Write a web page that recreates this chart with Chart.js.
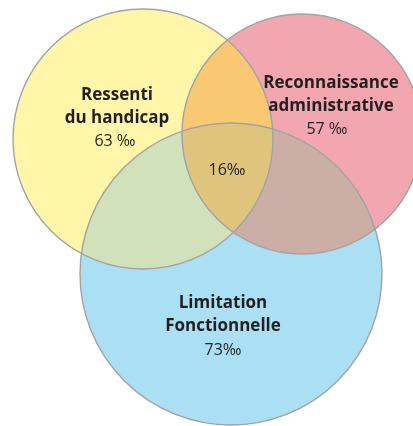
<!DOCTYPE html>
<html>
<head>
<meta charset="utf-8">
<script src="https://cdn.jsdelivr.net/npm/chart.js@4/dist/chart.umd.min.js"></script>
<style>
  html, body { margin: 0; padding: 0; background: #ffffff; overflow: hidden; }
  #wrap { width: 413px; height: 426px; position: relative; }
</style>
</head>
<body>
<div id="wrap"><canvas id="venn"></canvas></div>
<script>
// Three groups of the Venn diagram (values in per mille)
const groupNames = [
  ['Ressenti', 'du handicap'],
  ['Reconnaissance', 'administrative'],
  ['Limitation', 'Fonctionnelle']
];
const groupValues = [63, 57, 73];
const valueSeparators = [' ', ' ', ''];
const overlapAllValue = 16;

// Circle geometry in chart units (x right, y down; 1 unit = 1 px)
const circleX = [143, 302, 231];
const circleY = [139, 134, 274];
const circleR = [130, 120, 151];

// Label anchors in chart units
const nameX = [117, 331, 223];
const nameY = [95, 83, 303];
const valueX = [115, 327, 223];
const valueY = [141, 129, 350];
const centerLabelX = 227;
const centerLabelY = 170;

const fills = ['#fff6aa', '#f2a6b0', '#aadff4'];
const pairFills = { '0-1': '#f8c972', '0-2': '#d1e2bb', '1-2': '#cbafa6' };
const tripleFill = '#dfc47e';
const edgeColor = '#a3a3a3';
const textColor = '#231f20';

const points = circleX.map((x, i) => ({ x: x, y: circleY[i], r: circleR[i] }));

function circlePath(ctx, el) {
  ctx.beginPath();
  ctx.arc(el.x, el.y, el.options.radius, 0, Math.PI * 2);
  ctx.closePath();
}

const vennPlugin = {
  id: 'vennOverlaps',
  afterDatasetsDraw(chart) {
    const ctx = chart.ctx;
    const els = chart.getDatasetMeta(0).data;
    // pairwise overlaps
    for (let a = 0; a < els.length; a++) {
      for (let b = a + 1; b < els.length; b++) {
        ctx.save();
        circlePath(ctx, els[a]); ctx.clip();
        circlePath(ctx, els[b]);
        ctx.fillStyle = pairFills[a + '-' + b];
        ctx.fill();
        ctx.restore();
      }
    }
    // common area of the three circles
    ctx.save();
    circlePath(ctx, els[0]); ctx.clip();
    circlePath(ctx, els[1]); ctx.clip();
    circlePath(ctx, els[2]);
    ctx.fillStyle = tripleFill;
    ctx.fill();
    ctx.restore();
    // outlines on top
    ctx.save();
    ctx.strokeStyle = edgeColor;
    ctx.lineWidth = 1.4;
    els.forEach(el => { circlePath(ctx, el); ctx.stroke(); });
    ctx.restore();

    // texts
    const xs = chart.scales.x, ys = chart.scales.y;
    const lineGap = 23;
    ctx.save();
    ctx.fillStyle = textColor;
    ctx.textAlign = 'center';
    ctx.textBaseline = 'middle';
    groupNames.forEach((lines, i) => {
      const px = xs.getPixelForValue(nameX[i]);
      const py = ys.getPixelForValue(nameY[i]);
      ctx.font = '700 17px "Open Sans", sans-serif';
      lines.forEach((t, k) => ctx.fillText(t, px, py + k * lineGap));
      ctx.font = '400 16px "Open Sans", sans-serif';
      ctx.fillText(groupValues[i] + valueSeparators[i] + '‰',
        xs.getPixelForValue(valueX[i]), ys.getPixelForValue(valueY[i]));
    });
    ctx.font = '400 16px "Open Sans", sans-serif';
    ctx.fillText(overlapAllValue + '‰', xs.getPixelForValue(centerLabelX), ys.getPixelForValue(centerLabelY));
    ctx.restore();
  }
};

new Chart(document.getElementById('venn'), {
  type: 'bubble',
  data: {
    datasets: [{
      data: points,
      backgroundColor: fills,
      borderWidth: 0,
      hoverBorderWidth: 0,
      clip: false
    }]
  },
  options: {
    responsive: true,
    maintainAspectRatio: false,
    animation: false,
    events: [],
    layout: { padding: 0, autoPadding: false },
    plugins: { legend: { display: false }, tooltip: { enabled: false } },
    scales: {
      x: { type: 'linear', min: 0, max: 413, display: false },
      y: { type: 'linear', min: 0, max: 426, reverse: true, display: false }
    }
  },
  plugins: [vennPlugin]
});
</script>
</body>
</html>
